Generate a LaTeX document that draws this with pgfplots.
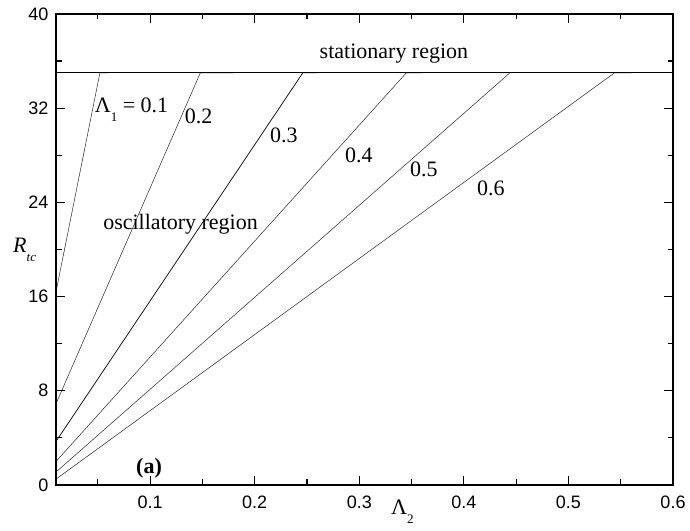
\documentclass[border=0pt]{standalone}
\usepackage{fontspec}
\setmainfont{Liberation Serif}
\setsansfont{Liberation Sans}
\usepackage{pgfplots}
\pgfplotsset{compat=1.18}
\newcommand{\lab}{\fontsize{22}{26}\selectfont}
\newcommand{\sub}[1]{\raisebox{-8.5pt}{\fontsize{13}{13}\selectfont #1}}
\begin{document}
\begin{tikzpicture}
\begin{axis}[
  scale only axis, width=617pt, height=471pt,
  xmin=0.01, xmax=0.6, ymin=0, ymax=40,
  xtick={0.1,0.2,0.3,0.4,0.5,0.6},
  minor xtick={0.05,0.15,0.25,0.35,0.45,0.55},
  ytick={0,8,16,24,32,40},
  minor ytick={4,12,20,28,36},
  tick align=inside,
  major tick length=9pt, minor tick length=5.5pt,
  axis line style={line width=1.4pt},
  every tick/.style={line width=1.2pt, black},
  tick label style={font=\sffamily\fontsize{18}{18}\selectfont},
  /pgf/number format/assume math mode=true,
  xticklabel style={/pgf/number format/fixed, /pgf/number format/precision=1, /pgf/number format/fixed zerofill, yshift=-7pt},
  yticklabel style={xshift=-4pt},
  clip=false,
  cycle list={{black, solid, line width=0.7pt, mark=none}},
]
\addplot coordinates {(0.01,16.4) (0.052,35) (0.060,35)};
\addplot coordinates {(0.01,6.9) (0.148,35) (0.18,35)};
\addplot coordinates {(0.01,3.7) (0.246,35) (0.26,35)};
\addplot coordinates {(0.01,2.0) (0.345,35) (0.36,35)};
\addplot coordinates {(0.01,1.1) (0.444,35)};
\addplot coordinates {(0.01,0.5) (0.544,35) (0.56,35)};
\addplot[black, line width=1pt, mark=none] coordinates {(0.01,35) (0.6,35)};

\node[anchor=base west, inner sep=0, font=\lab] at (axis cs:0.047,31.6) {Λ\sub{1} = 0.1};
\node[anchor=base west, inner sep=0, font=\lab] at (axis cs:0.133,30.7) {0.2};
\node[anchor=base west, inner sep=0, font=\lab] at (axis cs:0.2146,29.1) {0.3};
\node[anchor=base west, inner sep=0, font=\lab] at (axis cs:0.2863,27.35) {0.4};
\node[anchor=base west, inner sep=0, font=\lab] at (axis cs:0.3484,26.2) {0.5};
\node[anchor=base west, inner sep=0, font=\lab] at (axis cs:0.4125,24.6) {0.6};
\node[anchor=base west, inner sep=0, font=\lab] at (axis cs:0.262,36.26) {stationary region};
\node[anchor=base west, inner sep=0, font=\lab] at (axis cs:0.055,21.74) {oscillatory region};
\node[anchor=base west, inner sep=0, font=\lab\bfseries] at (axis cs:0.0865,1.0) {(a)};

\node[anchor=base west, inner sep=0, font=\lab] at ([yshift=-30pt]rel axis cs:0.543,0) {Λ\sub{2}};
\node[anchor=base west, inner sep=0, font=\lab] at ([xshift=-43pt,yshift=232pt]rel axis cs:0,0) {\textit{R}\raisebox{-9pt}{\fontsize{13}{13}\selectfont\textit{tc}}};

\coordinate (ll) at (rel axis cs:0,0);
\coordinate (ur) at (rel axis cs:1,1);
\end{axis}
\pgfresetboundingbox
\path ([shift={(-56pt,-46pt)}]ll) rectangle ([shift={(17pt,14pt)}]ur);
\end{tikzpicture}
\end{document}
